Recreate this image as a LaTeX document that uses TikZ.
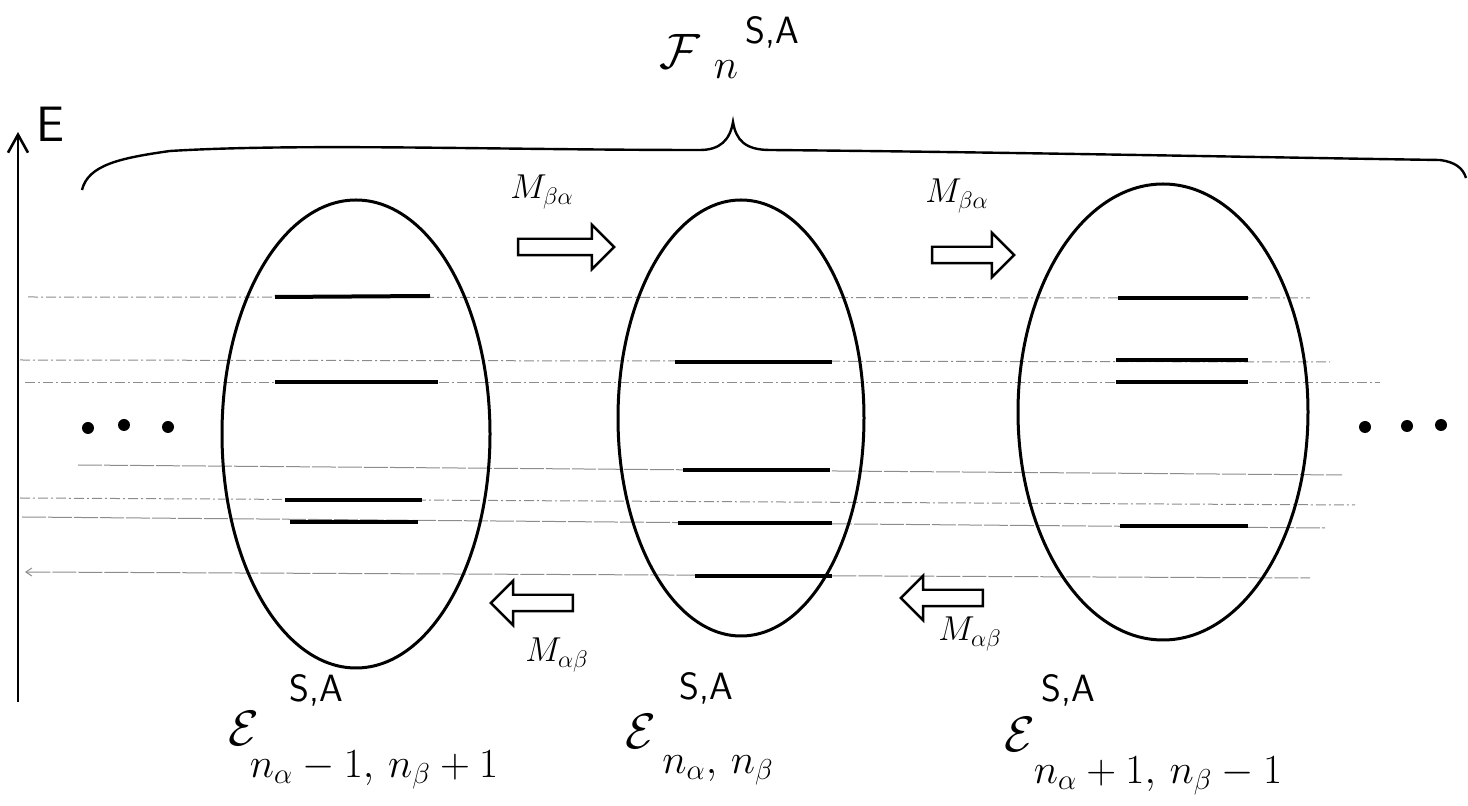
\documentclass[tikz,border=0pt]{standalone}
\usetikzlibrary{shapes.arrows,arrows.meta}
\begin{document}
\begin{tikzpicture}[x=0.5pt,y=-0.5pt,
  egg/.style={line width=1.5pt},
  lvl/.style={line width=2pt},
  guide/.style={black!45, line width=0.5pt, dash pattern=on 5pt off 1.5pt on 1pt off 1.5pt},
  harrow/.style={single arrow, draw, line width=1.2pt, minimum height=44pt, minimum width=21pt, inner sep=3.5pt, single arrow head extend=7pt, single arrow head indent=0pt},
  mlab/.style={font=\fontsize{18}{20}\selectfont, inner sep=0pt},
  big/.style={font=\fontsize{42}{44}\selectfont, inner sep=0pt},
  sup/.style={font=\fontsize{19}{21}\selectfont\sffamily, inner sep=0pt},
  sub/.style={font=\fontsize{20}{22}\selectfont, inner sep=0pt}]
\useasboundingbox (0,0) rectangle (1468,806);

% energy axis
\coordinate (axb) at (18,702);
\coordinate (axt) at (18,132);
\draw[line width=1.3pt,-{Straight Barb[length=9pt,width=10pt]}] (axb) -- (axt);
\node[font=\fontsize{26}{28}\selectfont] (E) at (50,124) {$\mathsf{E}$};

% guide lines
\draw[guide] (28,297) -- (1310,298);
\draw[guide] (20,360) -- (1330,362);
\draw[guide] (25,383) -- (1380,383);
\draw[guide, dash pattern=on 12pt off 1pt] (78,465) -- (1342,475);
\draw[guide] (20,498) -- (1355,505);
\draw[guide, dash pattern=on 12pt off 1pt] (22,517) -- (1325,528);
\coordinate (gl) at (25,572);
\coordinate (gr) at (1310,578);
\draw[guide, dash pattern=on 12pt off 1pt, {Straight Barb[length=3pt,width=4pt]}-] (gl) -- (gr);

% brace
\draw[line width=1.2pt] (82,190) .. controls (88,165) and (120,158) .. (170,151)
  .. controls (300,143) and (500,150) .. (700,150)
  .. controls (720,150) and (730,140) .. (733,122)
  .. controls (736,140) and (745,150) .. (770,150)
  .. controls (1000,152) and (1300,158) .. (1440,160)
  .. controls (1455,162) and (1463,168) .. (1466,178);
\node[big, font=\fontsize{38}{40}\selectfont] (F) at (680,52) {$\mathcal{F}$};
\node[sub] (Fn) at (726,70) {$n$};
\node[sup] (Fs) at (772,32) {S,A};

% sets
\draw[egg] (356,434) ellipse [x radius=67pt, y radius=117pt];
\draw[egg] (741,418) ellipse [x radius=61.5pt, y radius=109pt];
\draw[egg] (1163,412) ellipse [x radius=72.5pt, y radius=114pt];

% levels
\draw[lvl] (275,297) -- (430,296);
\draw[lvl] (275,382) -- (438,382);
\draw[lvl] (285,500) -- (422,500);
\draw[lvl] (290,522) -- (418,522);
\draw[lvl] (675,362) -- (832,362);
\draw[lvl] (683,470) -- (830,470);
\draw[lvl] (678,523) -- (832,523);
\draw[lvl] (695,576) -- (832,576);
\draw[lvl] (1118,298) -- (1248,298);
\draw[lvl] (1116,360) -- (1248,360);
\draw[lvl] (1116,382) -- (1248,382);
\draw[lvl] (1120,526) -- (1248,526);

% dots
\fill (88,428) circle (3pt);
\fill (124,425) circle (3pt);
\fill (168,427) circle (3pt);
\fill (1365,427) circle (3pt);
\fill (1407,426) circle (3pt);
\fill (1441,425) circle (3pt);

% transition arrows
\node[harrow, minimum height=48pt] (a1) at (562,247) {};
\node[mlab] (l1) at (542,192) {$M_{\beta\alpha}$};
\node[harrow, minimum height=41pt] (a2) at (969,255) {};
\node[mlab] (l2) at (957,196) {$M_{\beta\alpha}$};
\node[harrow, minimum height=41pt, shape border rotate=180] (a3) at (536,603) {};
\node[mlab] (l3) at (557,655) {$M_{\alpha\beta}$};
\node[harrow, minimum height=41pt, shape border rotate=180] (a4) at (946,598) {};
\node[mlab] (l4) at (970,634) {$M_{\alpha\beta}$};

% set labels
\node[big] (e1) at (244,728) {$\mathcal{E}$};
\node[sup] (e1s) at (316,690) {S,A};
\node[sub] (e1n) at (374,770) {$n_\alpha-1,\,n_\beta+1$};
\node[big] (e2) at (641,731) {$\mathcal{E}$};
\node[sup] (e2s) at (706,688) {S,A};
\node[sub] (e2n) at (718,770) {$n_\alpha,\,n_\beta$};
\node[big] (e3) at (1020,734) {$\mathcal{E}$};
\node[sup] (e3s) at (1068,690) {S,A};
\node[sub] (e3n) at (1158,776) {$n_\alpha+1,\,n_\beta-1$};
\end{tikzpicture}
\end{document}
